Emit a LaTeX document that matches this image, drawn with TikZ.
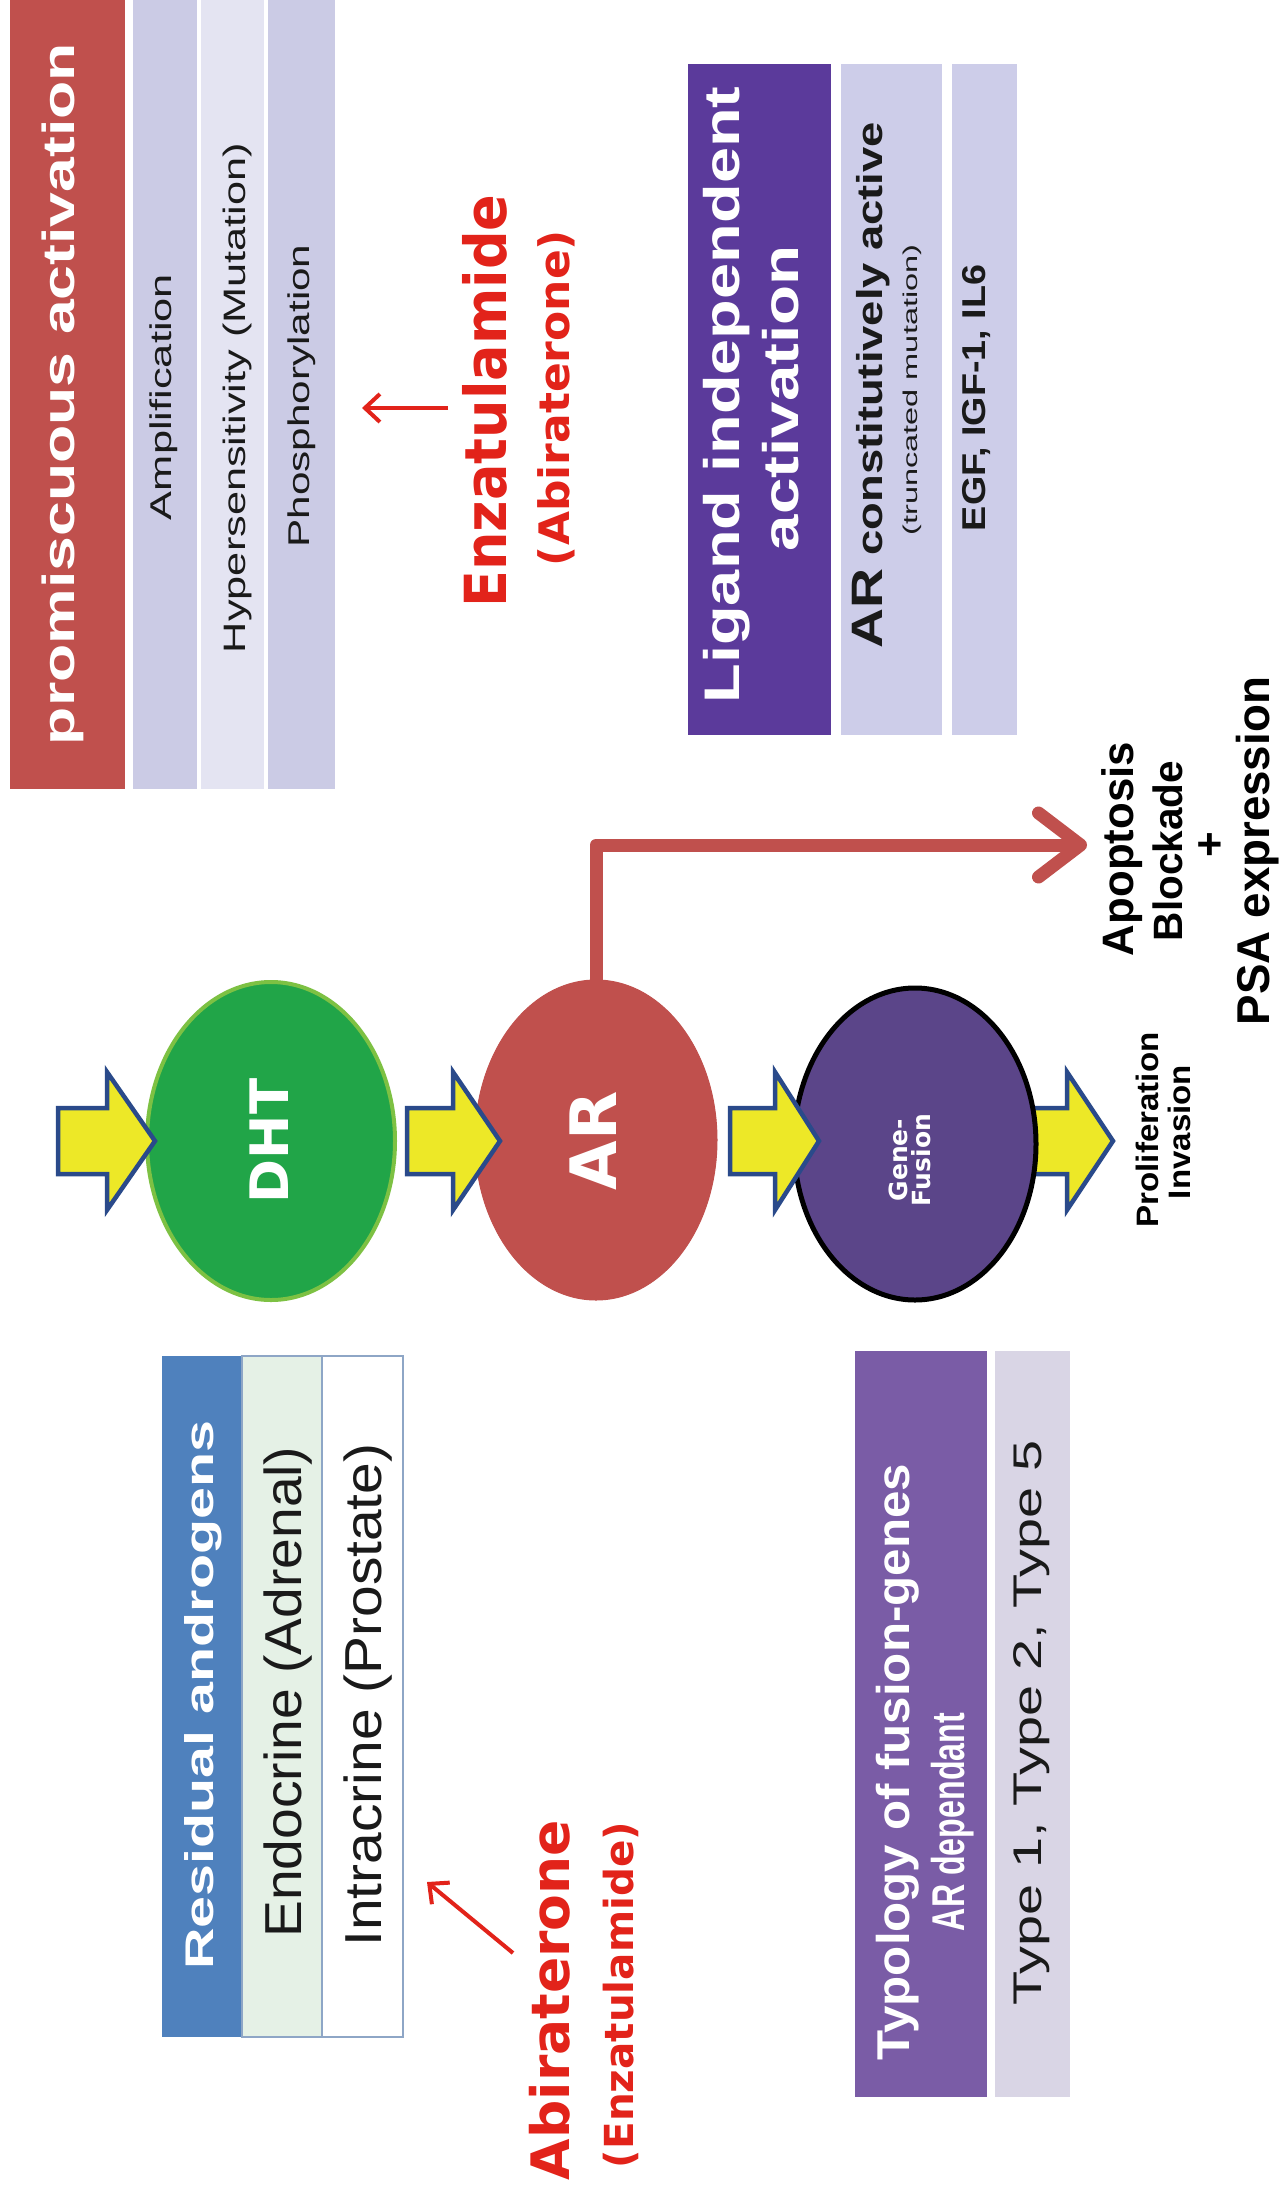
\documentclass[tikz,border=0pt]{standalone}
\usepackage{fontspec}
\setmainfont{Liberation Sans}
\newfontfamily\dv{DejaVu Sans}
\usepackage{graphicx}
\usetikzlibrary{shapes.geometric,arrows.meta}
\newcommand{\fitt}[3]{\resizebox{#1pt}{\height}{\fontsize{#2pt}{#2pt}\selectfont #3}}
\newcommand{\rt}[3]{\rotatebox{90}{\fitt{#1}{#2}{#3}}}
\definecolor{hdred}{HTML}{C0504D}
\definecolor{lav}{HTML}{CBCBE5}
\definecolor{lavlt}{HTML}{E4E4F2}
\definecolor{ligpur}{HTML}{5B3A9B}
\definecolor{lav2}{HTML}{CDCDE9}
\definecolor{resblue}{HTML}{4F81BD}
\definecolor{endogreen}{HTML}{E5F1E6}
\definecolor{tabline}{HTML}{8EA6C6}
\definecolor{typpur}{HTML}{7A5CA6}
\definecolor{typcell}{HTML}{D9D5E5}
\definecolor{dhtgreen}{HTML}{21A548}
\definecolor{dhtrim}{HTML}{7DC143}
\definecolor{gfpur}{HTML}{5B4589}
\definecolor{yel}{HTML}{EDE827}
\definecolor{yelrim}{HTML}{2A4A8A}
\definecolor{drugred}{HTML}{E2231A}
\definecolor{ink}{HTML}{1A1A1A}
\newcommand{\yarrow}[4]{\draw[yarrowstyle] (#1,{#4-33}) -- (#2,{#4-33}) -- (#2,{#4-69}) -- (#3,#4) -- (#2,{#4+69}) -- (#2,{#4+33}) -- (#1,{#4+33}) -- cycle;}
\begin{document}
\begin{tikzpicture}[x=1pt,y=-1pt,
  box/.style={rectangle,inner sep=0pt,outer sep=0pt,anchor=north west},
  tx/.style={inner sep=0pt,outer sep=0pt},
  blob/.style={ellipse,inner sep=0pt,outer sep=0pt},
  yarrowstyle/.style={fill=yel,draw=yelrim,line width=4.5pt,line join=miter},
  redconn/.style={draw=hdred,line width=13pt,line cap=round,line join=round,-{Straight Barb[length=42pt,width=64pt,round]}},
  drugarrow/.style={draw=drugred,line width=4pt,-{Straight Barb[length=15pt,width=28pt]}}
]
\useasboundingbox (0,0) rectangle (1280,2186);
\fill[white] (0,0) rectangle (1280,2186);
\clip (0,0) rectangle (1280,2186);

% ---------- top: promiscuous activation ----------
\node[box,fill=hdred,minimum width=115,minimum height=795] (promhead) at (10,-6) {};
\node[box,fill=lav,minimum width=64,minimum height=795] (ampcell) at (133,-6) {};
\node[box,fill=lavlt,minimum width=63,minimum height=795] (hypcell) at (201,-6) {};
\node[box,fill=lav,minimum width=67,minimum height=795] (phocell) at (268,-6) {};
\node[tx,text=white] (promtxt) at (63,394) {\rt{702}{45}{\bfseries promiscuous activation}};
\node[tx,text=ink] (amptxt) at (164,397) {\rt{246}{30}{Amplification}};
\node[tx,text=ink] (hyptxt) at (237,398) {\rt{510}{31}{Hypersensitivity (Mutation)}};
\node[tx,text=ink] (photxt) at (302,396) {\rt{303}{30}{Phosphorylation}};

% drug label (top)
\node[tx,text=drugred] (enza) at (485,401) {\rt{413}{58}{\dv\bfseries Enzatulamide}};
\node[tx,text=drugred] (abiparen) at (556,398) {\rt{336}{42}{\dv\bfseries (Abiraterone)}};
\coordinate (enzatail) at (448,408);
\coordinate (enzahead) at (362,408);
\draw[drugarrow] (enzatail) -- (enzahead);

% ---------- ligand independent activation ----------
\node[box,fill=ligpur,minimum width=143,minimum height=671] (lighead) at (688,64) {};
\node[box,fill=lav2,minimum width=101,minimum height=671] (arcell) at (841,64) {};
\node[box,fill=lav2,minimum width=65,minimum height=671] (egfcell) at (952,64) {};
\node[tx,text=white] (ligtxt1) at (727,395) {\rt{617}{50}{\bfseries Ligand independent}};
\node[tx,text=white] (ligtxt2) at (781,398) {\rt{306}{50}{\bfseries activation}};
\node[tx,text=ink] (artxt) at (871,385) {\rt{526}{36}{\bfseries {\fontsize{44pt}{44pt}\selectfont AR} constitutively active}};
\node[tx,text=ink] (trunctxt) at (912,390) {\rt{291}{20}{(truncated mutation)}};
\node[tx,text=ink] (egftxt) at (977,398) {\rt{266}{33}{\bfseries EGF, IGF-1, IL6}};

% ---------- middle row ----------
\node[blob,fill=dhtgreen,draw=dhtrim,line width=4pt,minimum width=248,minimum height=318] (DHT) at (271,1141) {};
\node[blob,fill=hdred,draw=hdred,line width=1pt,minimum width=242,minimum height=320] (AR) at (596,1140) {};
\yarrow{1023}{1067}{1113}{1141}
\node[blob,fill=gfpur,draw=black,line width=5pt,minimum width=242,minimum height=312] (GF) at (915,1144) {};

\node[tx,text=white] (dhttxt) at (269,1141) {\rotatebox{90}{\fontsize{53pt}{53pt}\selectfont\dv\bfseries DHT}};
\node[tx,text=white] (artxt2) at (593,1141) {\rotatebox{90}{\fontsize{64pt}{64pt}\selectfont\dv\bfseries AR}};
\node[tx,text=white] (gftxt) at (910,1160) {\rotatebox{90}{\fontsize{25pt}{31pt}\selectfont\dv\bfseries\shortstack{Gene-\\Fusion}}};

\yarrow{58}{107}{155}{1141}
\yarrow{407}{453}{500}{1141}
\yarrow{730}{775}{819}{1141}

\node[tx,text=black] (prolif) at (1147,1130) {\rt{195}{31}{\bfseries Proliferation}};
\node[tx,text=black] (invas) at (1179,1132) {\rt{134}{31}{\bfseries Invasion}};

% AR -> apoptosis connector
\coordinate (aptip) at (1087,845);
\draw[redconn] (AR.north) |- (aptip);

\node[tx,text=black] (apo1) at (1122,849) {\rt{214}{44}{\bfseries Apoptosis}};
\node[tx,text=black] (apo2) at (1168,851) {\rt{180}{41}{\bfseries Blockade}};
\node[tx,text=black] (apo3) at (1212,845) {\rotatebox{90}{\fontsize{44pt}{44pt}\selectfont\bfseries +}};
\node[tx,text=black] (apo4) at (1258,851) {\rt{348}{46}{\bfseries PSA expression}};

% ---------- residual androgens ----------
\node[box,fill=resblue,minimum width=80,minimum height=681] (reshead) at (162,1356) {};
\node[box,fill=endogreen,draw=tabline,line width=2pt,minimum width=80,minimum height=681] (endocell) at (242,1356) {};
\node[box,fill=white,draw=tabline,line width=2pt,minimum width=81,minimum height=681] (intracell) at (322,1356) {};
\node[tx,text=white] (restxt) at (203,1695) {\rt{549}{40}{\bfseries Residual androgens}};
\node[tx,text=ink] (endotxt) at (288,1692) {\rt{491}{52}{Endocrine (Adrenal)}};
\node[tx,text=ink] (intratxt) at (368,1695) {\rt{503}{52}{Intracrine (Prostate)}};

\node[tx,text=drugred] (abi) at (550,2000) {\rt{360}{53}{\dv\bfseries Abiraterone}};
\node[tx,text=drugred] (enzaparen) at (621,1995) {\rt{346}{40}{\dv\bfseries (Enzatulamide)}};
\coordinate (abitail) at (513,1953);
\coordinate (abihead) at (427,1882);
\draw[drugarrow] (abitail) -- (abihead);

% ---------- typology ----------
\node[box,fill=typpur,minimum width=132,minimum height=746] (typhead) at (855,1351) {};
\node[box,fill=typcell,minimum width=75,minimum height=746] (typecell) at (995,1351) {};
\node[tx,text=white] (typtxt1) at (898,1762) {\rt{596}{46}{\bfseries Typology of fusion-genes}};
\node[tx,text=white] (typtxt2) at (953,1822) {\rt{218}{46}{\bfseries AR dependant}};
\node[tx,text=ink] (typetxt) at (1032,1723) {\rt{565}{40}{Type 1, Type 2, Type 5}};
\end{tikzpicture}
\end{document}
